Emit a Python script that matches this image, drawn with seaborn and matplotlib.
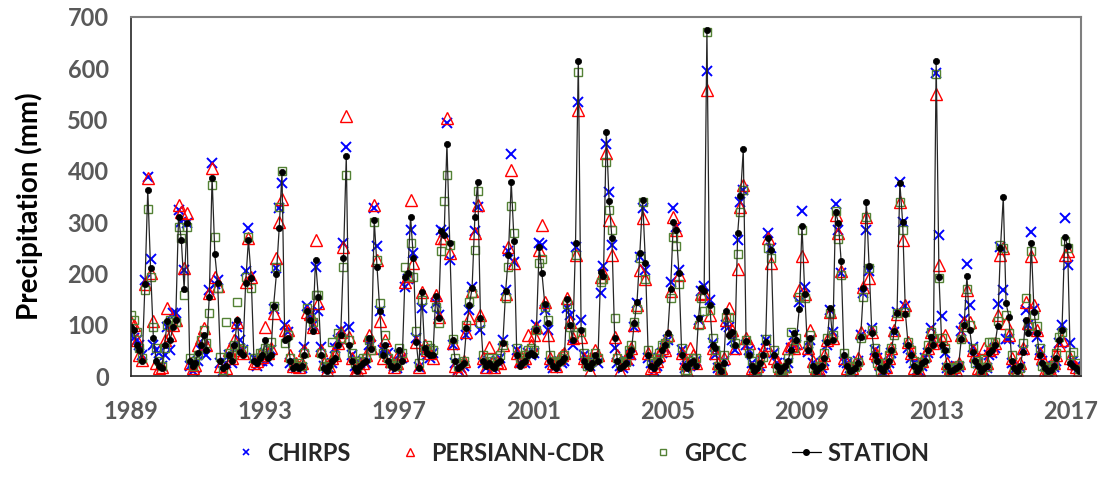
import numpy as np
import pandas as pd
import seaborn as sns
import matplotlib.pyplot as plt
from matplotlib.lines import Line2D

# monthly precipitation (mm), Jan 1989 - Apr 2017, one row per year
station_mm = [
    95, 90, 60, 50, 30, 180, 363, 210, 75, 30, 20, 15,      # 1989
    60, 108, 70, 95, 110, 310, 265, 169, 298, 30, 20, 25,   # 1990
    45, 60, 80, 50, 155, 387, 237, 181, 30, 15, 20, 40,     # 1991
    30, 60, 110, 47, 40, 181, 265, 192, 30, 25, 35, 40,     # 1992
    70, 35, 40, 137, 198, 288, 397, 70, 75, 30, 15, 20,     # 1993
    15, 20, 40, 126, 110, 88, 226, 155, 40, 15, 10, 20,     # 1994
    30, 35, 60, 80, 230, 429, 60, 30, 15, 10, 20, 25,       # 1995
    30, 75, 52, 304, 213, 126, 40, 60, 30, 20, 15, 20,      # 1996
    50, 30, 194, 200, 311, 230, 67, 15, 163, 55, 45, 40,    # 1997
    40, 156, 113, 282, 275, 453, 259, 70, 30, 15, 20, 25,   # 1998
    93, 139, 171, 311, 379, 113, 30, 20, 25, 20, 15, 25,    # 1999
    30, 65, 165, 236, 379, 264, 40, 20, 25, 30, 40, 45,     # 2000
    40, 90, 252, 200, 140, 103, 30, 20, 15, 25, 30, 35,     # 2001
    150, 100, 70, 259, 615, 90, 30, 20, 15, 25, 40, 30,     # 2002
    202, 195, 476, 342, 270, 75, 30, 15, 20, 25, 40, 50,    # 2003
    103, 145, 239, 344, 221, 40, 20, 15, 25, 30, 50, 60,    # 2004
    83, 170, 301, 285, 200, 40, 20, 15, 25, 30, 20, 113,    # 2005
    171, 165, 675, 139, 60, 54, 20, 10, 25, 126, 80, 85,    # 2006
    60, 278, 350, 442, 69, 40, 20, 10, 15, 25, 40, 67,     # 2007
    269, 246, 40, 20, 10, 15, 20, 30, 50, 83, 70, 130,      # 2008
    293, 160, 50, 74, 20, 10, 15, 20, 35, 67, 132, 70,      # 2009
    320, 299, 225, 40, 20, 10, 12, 15, 25, 77, 171, 340,    # 2010
    215, 83, 40, 30, 15, 10, 20, 30, 50, 87, 122, 377,      # 2011
    300, 121, 60, 40, 20, 10, 15, 25, 30, 50, 77, 60,       # 2012
    614, 194, 60, 50, 20, 10, 12, 15, 20, 73, 100, 195,     # 2013
    90, 47, 30, 20, 10, 15, 20, 45, 50, 60, 98, 250,        # 2014
    349, 142, 116, 30, 15, 10, 20, 47, 110, 83, 260, 125,   # 2015
    83, 40, 25, 15, 10, 12, 20, 35, 70, 90, 272, 254,       # 2016
    25, 20, 15, 10,                                         # 2017
]

chirps_mm = [
    80, 75, 70, 60, 40, 188, 388, 229, 60, 50, 45, 20,
    40, 95, 50, 122, 122, 324, 300, 207, 298, 20, 10, 15,
    30, 50, 75, 40, 168, 415, 180, 187, 25, 10, 25, 40,
    25, 55, 95, 70, 50, 204, 288, 195, 35, 20, 30, 30,
    45, 30, 50, 130, 210, 327, 377, 100, 85, 25, 20, 15,
    20, 15, 57, 137, 118, 100, 213, 126, 57, 20, 15, 15,
    25, 55, 70, 90, 260, 446, 95, 40, 20, 15, 25, 30,
    25, 60, 60, 327, 254, 126, 50, 55, 45, 25, 20, 15,
    40, 35, 174, 190, 285, 239, 75, 18, 132, 50, 40, 35,
    45, 142, 119, 285, 280, 494, 226, 60, 25, 12, 15, 20,
    80, 129, 174, 282, 330, 90, 25, 15, 30, 15, 20, 30,
    35, 70, 168, 243, 433, 223, 50, 25, 30, 25, 45, 40,
    45, 100, 260, 255, 129, 90, 25, 15, 20, 30, 25, 30,
    132, 119, 60, 252, 535, 109, 40, 25, 20, 30, 35, 25,
    161, 215, 453, 358, 256, 54, 25, 20, 15, 30, 30, 40,
    95, 142, 233, 327, 207, 35, 25, 10, 20, 35, 45, 55,
    70, 184, 327, 290, 206, 50, 15, 20, 20, 25, 30, 110,
    165, 176, 594, 148, 65, 40, 15, 12, 30, 100, 95, 70,
    50, 265, 340, 362, 60, 50, 25, 15, 10, 20, 45, 70,
    278, 249, 45, 25, 15, 10, 15, 25, 54, 80, 60, 145,
    321, 173, 47, 70, 25, 12, 10, 15, 30, 60, 128, 85,
    336, 285, 200, 28, 25, 15, 10, 20, 30, 80, 161, 284,
    204, 93, 50, 35, 20, 8, 15, 25, 45, 85, 125, 379,
    301, 137, 55, 35, 25, 12, 10, 20, 35, 45, 93, 70,
    591, 275, 117, 45, 15, 12, 10, 20, 18, 87, 111, 218,
    139, 57, 35, 25, 12, 10, 15, 40, 45, 55, 141, 252,
    167, 73, 72, 25, 12, 15, 18, 50, 129, 100, 280, 130,
    77, 50, 30, 20, 8, 15, 18, 30, 65, 100, 308, 217,
    64, 30, 20, 15,
]

persiann_mm = [
    105, 100, 70, 40, 32, 180, 386, 200, 107, 25, 15, 18,
    70, 132, 80, 100, 110, 334, 320, 210, 317, 25, 15, 22,
    60, 75, 93, 60, 161, 405, 194, 175, 20, 5, 15, 50,
    35, 70, 105, 50, 45, 184, 269, 193, 25, 30, 40, 38,
    96, 45, 55, 122, 230, 301, 345, 90, 90, 40, 20, 25,
    18, 25, 50, 125, 120, 95, 265, 142, 50, 25, 12, 20,
    35, 40, 65, 86, 252, 506, 77, 35, 10, 12, 18, 25,
    40, 80, 55, 334, 226, 108, 35, 70, 40, 30, 18, 25,
    45, 40, 184, 195, 344, 220, 67, 18, 163, 60, 50, 45,
    35, 158, 115, 269, 270, 503, 239, 65, 20, 10, 12, 30,
    85, 113, 165, 278, 334, 119, 35, 18, 57, 25, 18, 28,
    25, 60, 160, 252, 402, 220, 45, 30, 35, 35, 80, 60,
    80, 95, 246, 295, 145, 80, 35, 25, 20, 35, 40, 45,
    152, 106, 75, 236, 519, 77, 35, 30, 10, 35, 50, 40,
    194, 200, 435, 305, 236, 77, 40, 10, 25, 35, 45, 55,
    100, 139, 206, 308, 189, 45, 15, 20, 30, 40, 55, 50,
    80, 165, 311, 285, 197, 45, 25, 10, 54, 40, 25, 106,
    160, 161, 558, 119, 55, 45, 25, 15, 35, 110, 132, 90,
    55, 208, 330, 373, 75, 64, 15, 12, 20, 30, 50, 60,
    270, 220, 35, 30, 15, 12, 20, 54, 60, 54, 65, 168,
    234, 160, 55, 90, 30, 15, 12, 25, 40, 70, 125, 75,
    314, 278, 204, 35, 15, 8, 15, 25, 35, 85, 174, 311,
    191, 85, 45, 40, 25, 12, 18, 35, 55, 90, 120, 340,
    265, 139, 67, 45, 15, 8, 12, 30, 40, 55, 85, 65,
    550, 217, 73, 80, 25, 15, 18, 12, 25, 80, 105, 168,
    106, 50, 40, 15, 15, 54, 25, 50, 55, 65, 119, 236,
    249, 103, 80, 35, 18, 12, 25, 55, 145, 104, 234, 139,
    90, 45, 35, 12, 15, 10, 25, 40, 60, 70, 236, 243,
    35, 25, 18, 12,
]

gpcc_mm = [
    118, 110, 85, 55, 35, 168, 325, 194, 95, 55, 30, 20,
    55, 100, 110, 105, 105, 291, 270, 158, 290, 35, 20, 30,
    40, 70, 90, 65, 122, 373, 272, 171, 38, 12, 106, 45,
    40, 60, 145, 55, 50, 194, 272, 171, 35, 35, 45, 45,
    55, 50, 67, 137, 213, 329, 400, 65, 80, 35, 25, 20,
    25, 20, 45, 132, 113, 105, 158, 158, 45, 20, 18, 25,
    67, 40, 83, 75, 213, 392, 70, 45, 25, 20, 30, 35,
    35, 70, 50, 301, 226, 142, 45, 80, 35, 25, 22, 20,
    55, 45, 213, 195, 259, 194, 87, 25, 148, 50, 60, 55,
    50, 135, 103, 243, 342, 392, 255, 72, 35, 20, 25, 30,
    100, 145, 161, 246, 360, 103, 40, 25, 35, 30, 22, 35,
    40, 60, 152, 213, 332, 278, 55, 35, 30, 40, 50, 55,
    50, 90, 220, 228, 135, 110, 40, 30, 25, 30, 35, 40,
    140, 95, 80, 236, 593, 85, 45, 20, 25, 30, 45, 35,
    184, 190, 417, 324, 285, 114, 35, 25, 30, 28, 50, 60,
    106, 130, 230, 340, 189, 50, 30, 25, 35, 45, 60, 65,
    75, 152, 272, 254, 180, 55, 10, 12, 30, 35, 35, 100,
    152, 126, 670, 129, 74, 50, 20, 10, 40, 115, 116, 80,
    65, 238, 320, 363, 70, 45, 30, 18, 12, 35, 38, 72,
    249, 230, 50, 15, 10, 12, 15, 35, 85, 55, 75, 155,
    285, 152, 60, 80, 15, 8, 20, 30, 45, 75, 122, 80,
    321, 267, 197, 45, 30, 12, 20, 18, 28, 75, 155, 311,
    210, 90, 55, 25, 10, 15, 25, 40, 55, 80, 122, 340,
    285, 125, 67, 50, 30, 15, 20, 28, 35, 60, 85, 75,
    588, 191, 75, 55, 18, 8, 15, 18, 22, 73, 95, 169,
    100, 55, 25, 30, 8, 34, 18, 67, 67, 67, 107, 256,
    250, 119, 83, 40, 10, 8, 15, 64, 152, 98, 243, 119,
    98, 55, 20, 18, 12, 18, 22, 45, 77, 85, 264, 249,
    40, 47, 25, 14,
]

year_ticks = [1989, 1993, 1997, 2001, 2005, 2009, 2013, 2017]

dates = pd.date_range("1989-01-01", periods=len(station_mm), freq="MS")
df = pd.DataFrame({
    "t": dates.year + (dates.month - 1) / 12.0,
    "CHIRPS": chirps_mm,
    "PERSIANN-CDR": persiann_mm,
    "GPCC": gpcc_mm,
    "STATION": station_mm,
})

sns.set_style("white")
plt.rcParams['font.family'] = ['Lato', 'DejaVu Sans']
plt.rcParams['font.weight'] = 'bold'

fig = plt.figure(figsize=(11.02, 4.79), dpi=100)
ax = fig.add_axes([131 / 1102, 1 - 376 / 479, 950 / 1102, 359 / 479])

sns.lineplot(data=df, x="t", y="CHIRPS", ax=ax, linestyle="", marker="x",
             color="#0000FF", markeredgecolor="#0000FF", markersize=7,
             markeredgewidth=1.4, errorbar=None)
sns.lineplot(data=df, x="t", y="PERSIANN-CDR", ax=ax, linestyle="", marker="^",
             color="#FF0000", markerfacecolor="none", markeredgecolor="#FF0000",
             markersize=8, markeredgewidth=1.0, errorbar=None)
sns.lineplot(data=df, x="t", y="GPCC", ax=ax, linestyle="", marker="s",
             color="#548235", markerfacecolor="none", markeredgecolor="#548235",
             markersize=6, markeredgewidth=1.0, errorbar=None)
sns.lineplot(data=df, x="t", y="STATION", ax=ax, linestyle="-", linewidth=0.9,
             marker="o", color="#262626", markerfacecolor="black",
             markeredgecolor="black", markersize=4.5, markeredgewidth=0.5,
             errorbar=None)

ax.set_xlim(1989, 2017 + 3.8 / 12)
ax.set_ylim(0, 700)
ax.set_xticks(year_ticks)
ax.set_yticks(range(0, 701, 100))
ax.tick_params(axis="y", length=0, pad=16, labelsize=17, labelcolor="#595959")
ax.tick_params(axis="x", length=6.5, width=1, direction="out", pad=11,
               labelsize=17, labelcolor="#595959", color="black")
ax.set_xlabel("")
ax.set_ylabel("Precipitation (mm)", fontsize=20, fontweight="bold", color="black")
ax.yaxis.set_label_coords(-0.093, 0.474)

for side in ["left", "bottom"]:
    ax.spines[side].set_color("#262626")
    ax.spines[side].set_linewidth(1.2)
for side in ["top", "right"]:
    ax.spines[side].set_color("#7f7f7f")
    ax.spines[side].set_linewidth(1.5)

handles = [
    Line2D([], [], linestyle="none", marker="x", color="#0000FF", markersize=5, mew=1.2),
    Line2D([], [], linestyle="none", marker="^", color="#FF0000", mfc="none", markersize=6, mew=1),
    Line2D([], [], linestyle="none", marker="s", color="#548235", mfc="none", markersize=4.5, mew=1),
    Line2D([], [], linestyle="-", marker="o", color="black", lw=0.9, markersize=4),
]
labels = ["CHIRPS", "PERSIANN-CDR", "GPCC", "STATION"]
fig.legend(handles, labels, loc="center", bbox_to_anchor=(0.527, 0.054), ncol=4,
           frameon=False, handlelength=1.2, handletextpad=0.3,
           columnspacing=1.9, prop={"weight": "bold", "size": 17})

fig.savefig("out.png", dpi=100)
